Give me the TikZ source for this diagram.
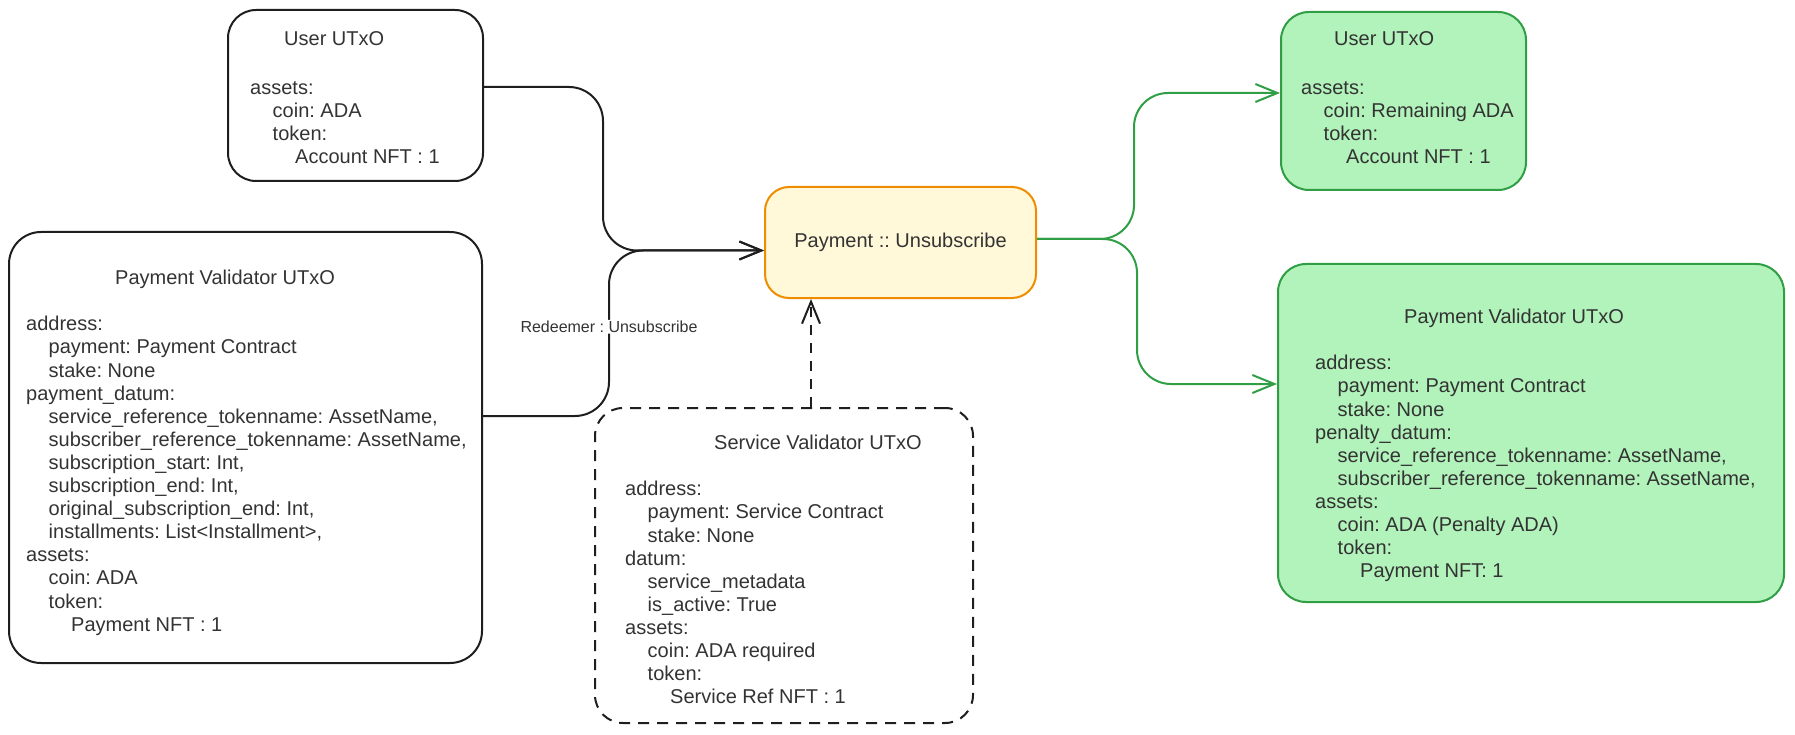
\documentclass[tikz,border=0pt]{standalone}
\usepackage{fontspec}
\setmainfont{Liberation Sans}
\usetikzlibrary{positioning}
\usetikzlibrary{arrows.meta}
\definecolor{ink}{HTML}{1E1E1E}
\definecolor{txtgray}{HTML}{333333}
\definecolor{procline}{HTML}{F08C00}
\definecolor{procfill}{HTML}{FFF8D9}
\definecolor{okline}{HTML}{2F9E44}
\definecolor{okfill}{HTML}{B2F2BB}
\newcommand{\indone}{\hspace*{22.5pt}}
\newcommand{\indtwo}{\hspace*{45pt}}
\frenchspacing

\begin{document}
\begin{tikzpicture}[x=1pt, y=-1pt,
  box/.style={draw=ink, line width=2pt, rounded corners=28pt},
  inbox/.style={box, dash pattern=on 11pt off 8pt},
  procbox/.style={draw=procline, fill=procfill, line width=2pt, rounded corners=24pt,
    text=txtgray, font=\fontsize{20}{23.1}\selectfont},
  outbox/.style={draw=okline, fill=okfill, line width=2pt, rounded corners=28pt},
  txt/.style={align=left, inner sep=0pt, text=txtgray, font=\fontsize{20}{23.1}\selectfont},
  conn/.style={draw=ink, line width=2pt, -{Straight Barb[length=22pt,width=18pt]}},
  gconn/.style={conn, draw=okline},
  redeem/.style={fill=white, inner sep=1pt, text=txtgray, font=\fontsize{16}{18}\selectfont}]
  \useasboundingbox (0,0) rectangle (1795,735);

  % inputs
  \node[box, minimum width=255pt, minimum height=171pt] (userin) at (355.5,95.5) {};
  \node[box, rounded corners=32pt, minimum width=473pt, minimum height=431pt] (valin) at (245.5,447.5) {};
  \node[inbox, minimum width=378pt, minimum height=315pt] (servin) at (784,565.5) {};
  % transaction
  \node[procbox, minimum width=271pt, minimum height=111pt] (unsub) at (900.5,242.5) {Payment :: Unsubscribe};
  % outputs
  \node[outbox, minimum width=245pt, minimum height=178pt] (userout) at (1403.5,101) {};
  \node[outbox, minimum width=506pt, minimum height=338pt] (valout) at (1531,433) {};

  \node[txt, below right=22pt and 23pt of userin.north west] (userintxt) {%
    \hspace*{34pt}User UTxO\\[26pt]
    assets:\\
    \indone coin: ADA\\
    \indone token:\\
    \indtwo Account NFT : 1};
  \node[txt, below right=39pt and 18pt of valin.north west] (valintxt) {%
    \hspace*{89pt}Payment Validator UTxO\\[23.1pt]
    address:\\
    \indone payment: Payment Contract\\
    \indone stake: None\\
    payment\_datum:\\
    \indone service\_reference\_tokenname: AssetName,\\
    \indone subscriber\_reference\_tokenname: AssetName,\\
    \indone subscription\_start: Int,\\
    \indone subscription\_end: Int,\\
    \indone original\_subscription\_end: Int,\\
    \indone installments: List<Installment>,\\
    assets:\\
    \indone coin: ADA\\
    \indone token:\\
    \indtwo Payment NFT : 1};
  \node[txt, below right=28pt and 31pt of servin.north west] (servintxt) {%
    \hspace*{89pt}Service Validator UTxO\\[23.1pt]
    address:\\
    \indone payment: Service Contract\\
    \indone stake: None\\
    datum:\\
    \indone service\_metadata\\
    \indone is\_active: True\\
    assets:\\
    \indone coin: ADA required\\
    \indone token:\\
    \indtwo Service Ref NFT : 1};
  \node[txt, below right=20pt and 21pt of userout.north west] (userouttxt) {%
    \hspace*{33pt}User UTxO\\[26pt]
    assets:\\
    \indone coin: Remaining ADA\\
    \indone token:\\
    \indtwo Account NFT : 1};
  \node[txt, below right=46pt and 38pt of valout.north west] (valouttxt) {%
    \hspace*{89pt}Payment Validator UTxO\\[23.1pt]
    address:\\
    \indone payment: Payment Contract\\
    \indone stake: None\\
    penalty\_datum:\\
    \indone service\_reference\_tokenname: AssetName,\\
    \indone subscriber\_reference\_tokenname: AssetName,\\
    assets:\\
    \indone coin: ADA (Penalty ADA)\\
    \indone token:\\
    \indtwo Payment NFT: 1};

  \draw[conn, rounded corners=34pt] ([yshift=8.5pt]userin.east) -- ++(119,0) |- ([yshift=-8pt]unsub.west);
  \draw[conn, rounded corners=34pt] ([yshift=31.5pt]valin.east) -- ++(126,0)
    |- node[redeem, pos=0.27] {Redeemer : Unsubscribe} ([yshift=-8pt]unsub.west);
  \draw[conn, dash pattern=on 10pt off 8pt] ([xshift=27pt]servin.north) -- ([xshift=27pt]servin.north |- unsub.south);
  \draw[gconn, rounded corners=34pt] ([yshift=3.5pt]unsub.east) -- ++(97,0) |- ([yshift=8pt]userout.west);
  \draw[gconn, rounded corners=34pt] ([yshift=3.5pt]unsub.east) -- ++(100,0) |- ([yshift=49pt]valout.west);
\end{tikzpicture}
\end{document}
